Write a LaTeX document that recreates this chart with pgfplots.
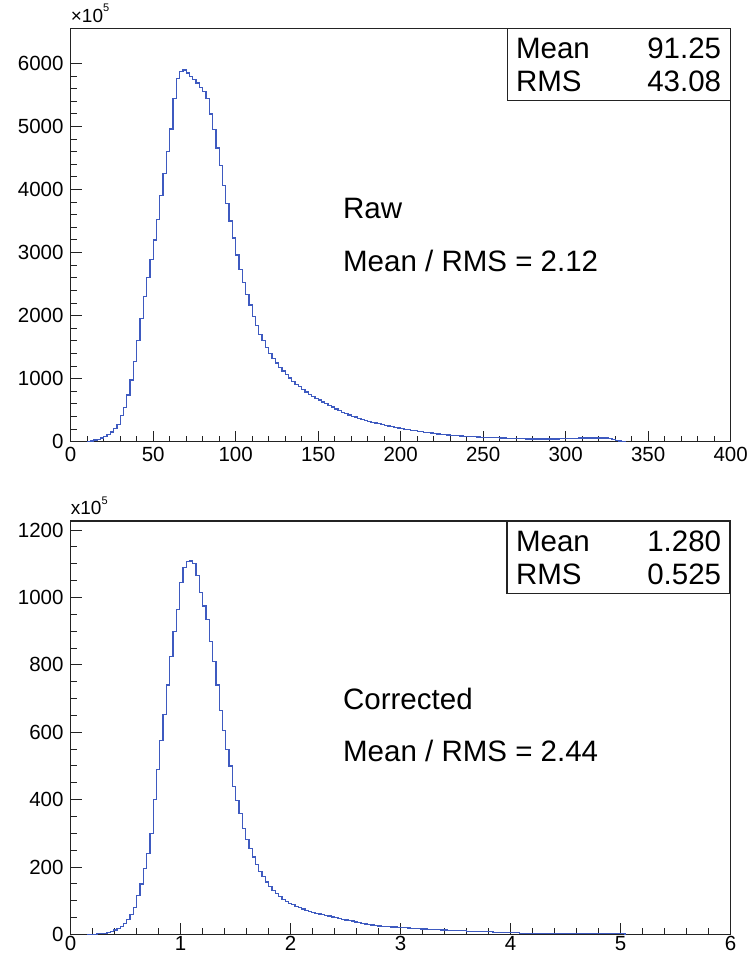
\documentclass[border=0pt]{standalone}
\usepackage{fontspec}
\setmainfont{Liberation Sans}
\usepackage{pgfplots}
\usepackage{pgfplotstable}
\pgfplotsset{compat=1.18}
\definecolor{histblue}{RGB}{62,90,192}
\definecolor{framecol}{RGB}{35,35,35}

\pgfplotstableread{
x y
10 0
10 5
12 12
14 25
16 40
18 60
20 85
22 115
24 155
26 205
28 275
30 410
32 540
34 740
36 980
38 1270
40 1600
42 1960
44 2300
46 2600
48 2890
50 3200
52 3530
54 3900
56 4260
58 4600
60 4960
62 5450
64 5760
66 5870
68 5895
70 5850
72 5790
74 5740
76 5690
78 5620
80 5560
82 5440
84 5200
86 4950
88 4660
90 4380
92 4070
94 3780
96 3500
98 3230
100 2960
102 2730
104 2520
106 2340
108 2170
110 1990
112 1840
114 1700
116 1600
118 1490
120 1400
122 1320
124 1250
126 1180
128 1120
130 1065
132 1010
134 950
136 910
138 870
140 830
142 790
144 750
146 715
148 685
150 660
152 630
154 600
156 575
158 550
160 520
162 490
164 465
166 445
168 425
170 405
172 390
174 370
176 355
178 340
180 325
182 310
184 298
186 285
188 272
190 260
192 250
194 238
196 228
198 218
200 208
202 199
204 190
206 181
208 172
210 163
212 156
214 149
216 142
218 136
220 130
222 124
224 118
226 113
228 108
230 103
232 98
234 94
236 90
238 87
240 84
242 81
244 78
246 75
248 72
250 70
252 68
254 66
256 64
258 61
260 59
262 57
264 55
266 53
268 51
270 49
272 47
274 45
276 44
278 43
280 42
282 43
284 42
286 43
288 42
290 43
292 43
294 44
296 45
298 46
300 48
302 50
304 53
306 56
308 58
310 59
312 59
314 60
316 59
318 58
320 60
322 59
324 57
326 55
328 40
330 22
332 10
334 3
336 0
}\rawdata

\pgfplotstableread{
x y
0.15 0
0.15 1
0.18 1
0.21 1
0.24 2
0.27 2
0.30 4
0.33 6
0.36 9
0.39 13
0.42 18
0.45 24
0.48 33
0.51 45
0.54 60
0.57 80
0.60 116
0.63 150
0.66 195
0.69 240
0.72 300
0.75 400
0.78 490
0.81 575
0.84 652
0.87 740
0.90 825
0.93 900
0.96 965
0.99 1045
1.02 1090
1.05 1106
1.08 1108
1.11 1100
1.14 1065
1.17 1015
1.20 975
1.23 935
1.26 870
1.29 810
1.32 740
1.35 665
1.38 605
1.41 550
1.44 500
1.47 440
1.50 398
1.53 358
1.56 315
1.59 283
1.62 255
1.65 230
1.68 208
1.71 188
1.74 171
1.77 156
1.80 143
1.83 131
1.86 121
1.89 112
1.92 104
1.95 98
1.98 93
2.01 88
2.04 84
2.07 80
2.10 76
2.13 72
2.16 69
2.19 66
2.22 63
2.25 61
2.28 59
2.31 57
2.34 55
2.37 52
2.40 50
2.43 47
2.46 45
2.49 43
2.52 42
2.55 40
2.58 37
2.61 35
2.64 33
2.67 31
2.70 30
2.73 28
2.76 27
2.79 25
2.82 24
2.85 23
2.88 23
2.91 22
2.94 22
2.97 21
3.00 21
3.03 20
3.06 19
3.09 18
3.12 17
3.15 17
3.18 16
3.21 16
3.24 15
3.27 15
3.30 14
3.33 14
3.36 13
3.39 13
3.42 12
3.45 12
3.48 12
3.51 11
3.54 11
3.57 11
3.60 10
3.63 10
3.66 9
3.69 9
3.72 8
3.75 8
3.78 8
3.81 8
3.84 7
3.87 7
3.90 7
3.93 7
3.96 6
3.99 6
4.02 5
4.05 5
4.08 4
4.11 3
4.14 3
4.17 3
4.20 3
4.23 3
4.26 3
4.29 3
4.32 3
4.35 3
4.38 3
4.41 3
4.44 3
4.47 2
4.50 3
4.53 2
4.56 2
4.59 2
4.62 2
4.65 2
4.68 2
4.71 2
4.74 2
4.77 2
4.80 2
4.83 2
4.86 2
4.89 2
4.92 2
4.95 2
4.98 2
5.01 2
5.04 0
}\corrdata

\pgfplotsset{
  rootstyle/.style={
    scale only axis, width=660bp, height=413.5bp,
    anchor=south west,
    tick align=inside, tick pos=left,
    major tick length=11bp, minor tick length=6bp,
    tick style={framecol, line width=1bp},
    axis line style={framecol, line width=1.2bp},
    ticklabel style={font=\fontsize{20.5bp}{23bp}\selectfont},
    xticklabel style={inner sep=1bp, yshift=-4bp},
    yticklabel style={inner sep=2bp, xshift=-5bp},
    /pgf/number format/assume math mode=true,
    /pgf/number format/1000 sep={},
    scaled ticks=false,
  },
}
\tikzset{annot/.style={anchor=base west, font=\fontsize{29.5bp}{33bp}\selectfont, inner sep=0pt}}

\newcommand{\statbox}[2]{\parbox{205bp}{\fontsize{29.5bp}{33bp}\selectfont Mean\hfill #1\\RMS\hfill #2}}

\begin{document}
\begin{tikzpicture}
\useasboundingbox (0,0) rectangle (750bp,956bp);

\begin{axis}[rootstyle, name=top, at={(70.7bp,514.3bp)},
  xmin=0, xmax=400, ymin=0, ymax=6560,
  xtick={0,50,...,400}, minor x tick num=4,
  ytick={0,1000,...,6000}, minor y tick num=4]
\addplot[const plot mark left, color=histblue, line width=1.25bp] table[x=x,y=y] {\rawdata};
\node[annot] at (axis cs:165,3547) {Raw};
\node[annot] at (axis cs:165,2707) {Mean / RMS = 2.12};
\node[draw=framecol, line width=1.2bp, fill=white, anchor=north east, minimum width=223bp, minimum height=72bp, inner sep=0pt] at (rel axis cs:1,1) {\statbox{91.25}{43.08}};
\end{axis}
\node[anchor=base west, inner sep=0pt, font=\fontsize{19bp}{19bp}\selectfont] at ([yshift=6bp]top.north west) {×10\raisebox{0.55em}{\fontsize{11bp}{11bp}\selectfont 5}};

\begin{axis}[rootstyle, name=bot, at={(70.7bp,21.5bp)},
  xmin=0, xmax=6, ymin=0, ymax=1227,
  xticklabel style={inner sep=0.5bp, yshift=3bp},
  xtick={0,1,...,6}, minor x tick num=4,
  ytick={0,200,...,1200}, minor y tick num=3]
\addplot[const plot mark left, color=histblue, line width=1.25bp] table[x=x,y=y] {\corrdata};
\node[annot] at (axis cs:2.475,667) {Corrected};
\node[annot] at (axis cs:2.475,513) {Mean / RMS = 2.44};
\node[draw=framecol, line width=1.2bp, fill=white, anchor=north east, minimum width=223bp, minimum height=72bp, inner sep=0pt] at (rel axis cs:1,1) {\statbox{1.280}{0.525}};
\end{axis}
\node[anchor=base west, inner sep=0pt, font=\fontsize{19bp}{19bp}\selectfont] at ([yshift=6bp]bot.north west) {x10\raisebox{0.55em}{\fontsize{11bp}{11bp}\selectfont 5}};
\end{tikzpicture}
\end{document}
